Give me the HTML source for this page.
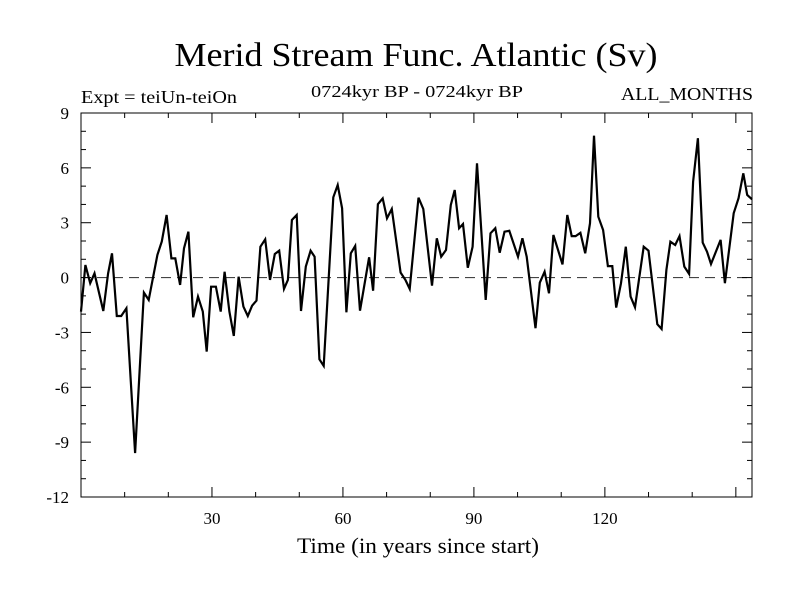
<!DOCTYPE html>
<html><head><meta charset="utf-8"><style>
html,body{margin:0;padding:0;background:#fff;}
svg{display:block;font-family:"Liberation Serif",serif;}
</style></head><body>
<svg id="chart" width="800" height="600" viewBox="0 0 800 600" xmlns="http://www.w3.org/2000/svg">
<rect x="0" y="0" width="800" height="600" fill="#fff"/>
<text x="416" y="66" font-size="34" text-anchor="middle" textLength="483" lengthAdjust="spacingAndGlyphs">Merid Stream Func. Atlantic (Sv)</text>
<text x="81" y="103" font-size="18" textLength="156" lengthAdjust="spacingAndGlyphs">Expt = teiUn-teiOn</text>
<text x="417" y="97" font-size="17" text-anchor="middle" textLength="212" lengthAdjust="spacingAndGlyphs">0724kyr BP - 0724kyr BP</text>
<text x="753" y="100" font-size="18" text-anchor="end" textLength="132" lengthAdjust="spacingAndGlyphs">ALL_MONTHS</text>
<text x="418" y="553" font-size="22" text-anchor="middle" textLength="242" lengthAdjust="spacingAndGlyphs">Time (in years since start)</text>
<g id="axes"></g>
<g id="series"></g>
</svg>
<script>
const years = [0,1.0,2.1,3.1,5.1,6.2,7.1,8.2,9.2,10.4,12.4,14.4,15.5,17.5,18.5,19.6,20.7,21.6,22.7,23.6,24.6,25.7,26.8,27.9,28.8,29.8,30.9,32,32.9,34,35,36.1,37.2,38.2,39.2,40.2,41.1,42.2,43.3,44.4,45.4,46.5,47.4,48.3,49.4,50.4,51.5,52.6,53.5,54.6,55.6,57.8,58.8,59.8,60.8,61.8,62.8,63.9,66,66.9,68,69.1,70.1,71.2,73.2,74.3,75.3,77.3,78.4,80.4,81.5,82.5,83.6,84.7,85.6,86.6,87.5,88.6,89.7,90.7,92.7,93.8,94.9,95.9,97,98.1,100.1,101.1,102.1,104.1,105.1,106.2,107.2,108.2,110.3,111.4,112.4,113.3,114.4,115.5,116.6,117.5,118.5,119.6,120.7,121.7,122.6,123.7,124.8,125.9,126.9,128.9,130,132,133,134.1,135,136.1,137.1,138.2,139.3,140.2,141.3,142.4,143.4,144.3,146.5,147.5,149.5,150.6,151.7,152.6,153.7];
const values = [-1.86,0.69,-0.31,0.23,-1.83,0.23,1.33,-2.1,-2.1,-1.68,-9.6,-0.82,-1.22,1.24,1.97,3.42,1.05,1.05,-0.4,1.6,2.51,-2.17,-1.04,-1.86,-4.05,-0.5,-0.5,-1.86,0.32,-1.86,-3.19,0.05,-1.59,-2.1,-1.54,-1.26,1.69,2.09,-0.13,1.29,1.47,-0.62,-0.13,3.15,3.42,-1.83,0.6,1.47,1.14,-4.47,-4.83,4.39,5.06,3.79,-1.9,1.33,1.73,-1.81,1.11,-0.72,4.01,4.33,3.24,3.75,0.27,-0.13,-0.62,4.37,3.75,-0.44,2.15,1.14,1.51,3.97,4.79,2.7,2.93,0.54,1.69,6.25,-1.22,2.42,2.7,1.36,2.51,2.56,1.14,2.15,1.14,-2.77,-0.28,0.32,-0.86,2.33,0.72,3.42,2.27,2.27,2.45,1.33,2.97,7.76,3.33,2.6,0.63,0.63,-1.64,-0.31,1.69,-1.04,-1.62,1.69,1.47,-2.55,-2.81,0.42,1.96,1.78,2.27,0.6,0.2,5.24,7.62,1.91,1.42,0.74,2.06,-0.31,3.52,4.33,5.7,4.52,4.28];
const yTickLabels = [9,6,3,0,-3,-6,-9,-12];
const xTickLabels = [30,60,90,120];

const X0=81,X1=752,Y0=113,Y1=497;
const xMin=0,xMax=153.7,yMin=-12,yMax=9;
const sx=v=>X0+(v-xMin)/(xMax-xMin)*(X1-X0);
const sy=v=>Y1-(v-yMin)/(yMax-yMin)*(Y1-Y0);
const NS='http://www.w3.org/2000/svg';
const axes=document.getElementById('axes');
const series=document.getElementById('series');
function mk(tag,attrs,parent){const e=document.createElementNS(NS,tag);for(const k in attrs)e.setAttribute(k,attrs[k]);parent.appendChild(e);return e;}

const frame=mk('rect',{x:X0,y:Y0,width:X1-X0,height:Y1-Y0,fill:'none',stroke:'#000','stroke-width':1},axes);



const zero=mk('line',{x1:X0,x2:X1,y1:sy(0),y2:sy(0),stroke:'#444','stroke-width':1.2,'stroke-dasharray':'10,6'},axes);



for(let v=yMin;v<=yMax;v++){
  const major=(v%3===0);const L=major?10:5;const y=sy(v);
  const t1=mk('line',{x1:X0,x2:X0+L,y1:y,y2:y,stroke:'#000','stroke-width':1},axes);
  
  
  const t2=mk('line',{x1:X1,x2:X1-L,y1:y,y2:y,stroke:'#000','stroke-width':1},axes);
  
  
}
yTickLabels.forEach(v=>{
  const t=mk('text',{x:X0-12,y:sy(v)+6,'font-size':17,'text-anchor':'end'},axes);
  t.textContent=v;
  
  
});
for(let v=10;v<xMax;v+=10){
  const major=(v%30===0);const L=major?10:5;const x=sx(v);
  const b=mk('line',{x1:x,x2:x,y1:Y1,y2:Y1-L,stroke:'#000','stroke-width':1},axes);
  
  
  const t=mk('line',{x1:x,x2:x,y1:Y0,y2:Y0+L,stroke:'#000','stroke-width':1},axes);
  
  
}
xTickLabels.forEach(v=>{
  const t=mk('text',{x:sx(v),y:524,'font-size':17,'text-anchor':'middle'},axes);
  t.textContent=v;
  
  
});

const pts=years.map((yr,i)=>sx(yr).toFixed(1)+','+sy(values[i]).toFixed(1)).join(' ');
const line=mk('polyline',{points:pts,fill:'none',stroke:'#000','stroke-width':2.2,'stroke-linejoin':'miter'},series);


</script>
</body></html>
